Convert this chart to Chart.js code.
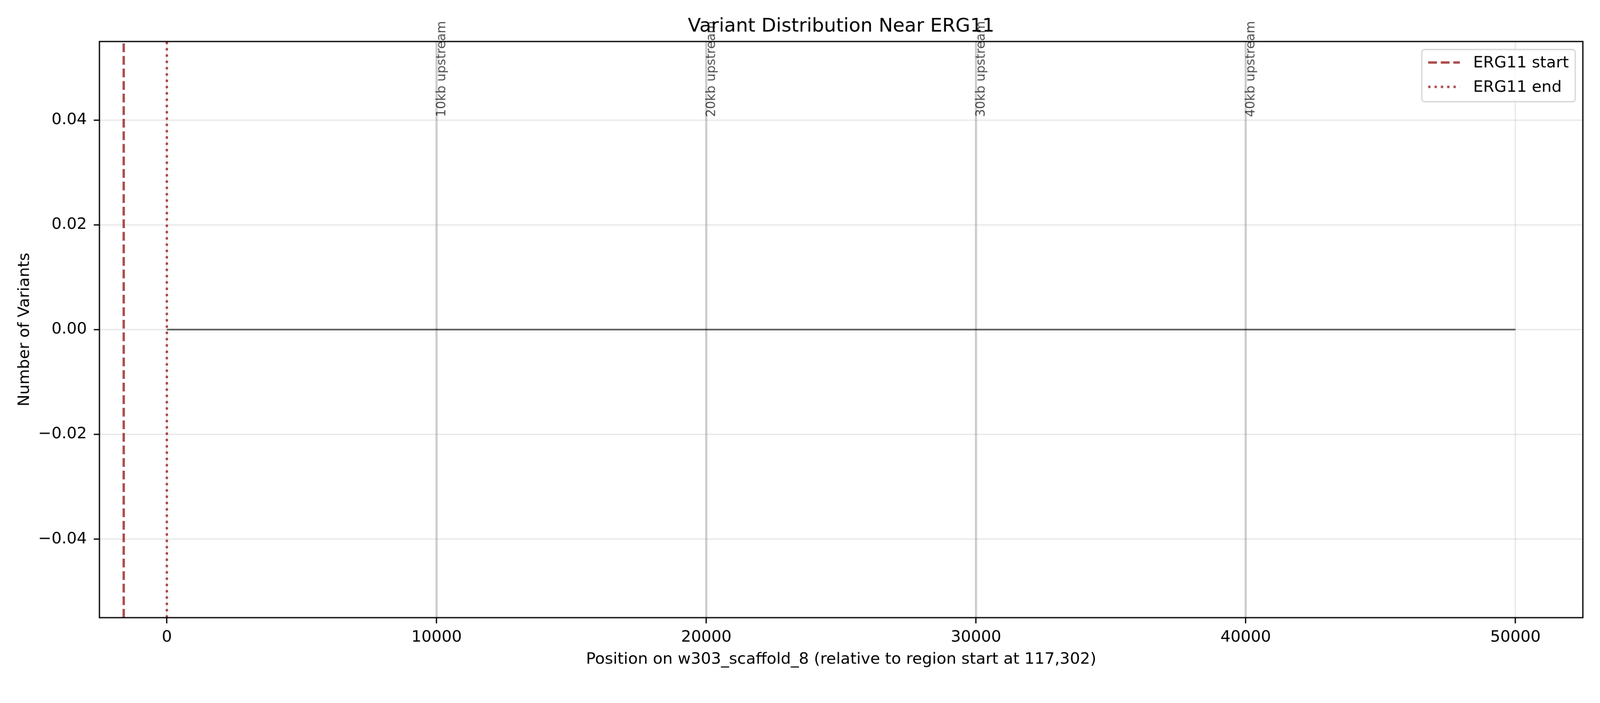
<!DOCTYPE html>
<html>
<head>
<meta charset="utf-8">
<title>Variant Distribution Near ERG11</title>
<script src="https://cdn.jsdelivr.net/npm/chart.js@4.4.1/dist/chart.umd.min.js"></script>
<style>
  html, body { margin: 0; padding: 0; background: #fff; overflow: hidden; }
  #chart { display: block; }
</style>
</head>
<body>
<canvas id="chart" width="4200" height="1800"></canvas>
<script>
// variant counts per position across the window (nothing found)
const binPositions = [0, 10000, 20000, 30000, 40000, 50000]
const variantCounts = [0, 0, 0, 0, 0, 0]

// gene boundaries, relative to region start
const ergStart = -1600
const ergEnd = 0

// upstream distance markers
const markerPositions = [10000, 20000, 30000, 40000]
const markerLabels = ['10kb upstream', '20kb upstream', '30kb upstream', '40kb upstream']
const markerLabelY = 0.04

const xTicks = [0, 10000, 20000, 30000, 40000, 50000]
const yTicks = [-0.04, -0.02, 0, 0.02, 0.04]
const xRange = [-2500, 52500]
const yRange = [-0.055, 0.055]

const legendLabels = ['ERG11 start', 'ERG11 end']

const FONT = '"DejaVu Sans", "Liberation Sans", sans-serif'
const RED = 'rgba(139,0,0,0.7)'
const DASHED = [23, 10]
const DOTTED = [6.25, 10.3]

function vline(xValue, color, width, dash, order) {
    return {
        data: [{x: xValue, y: yRange[0]}, {x: xValue, y: yRange[1]}],
        borderColor: color,
        borderWidth: width,
        borderDash: dash,
        borderCapStyle: 'butt',
        pointRadius: 0,
        order: order
    }
}

const datasets = []

// grey reference lines every 10 kb
markerPositions.forEach((pos) => datasets.push(vline(pos, 'rgba(128,128,128,0.3)', 6.25, [], 5)))

datasets.push({
    data: binPositions.map((p, i) => ({x: p, y: variantCounts[i]})),
    borderColor: 'rgba(0,0,0,0.65)',
    borderWidth: 4.2,
    pointRadius: 0,
    order: 4
})

datasets.push(vline(ergStart, RED, 6.25, DASHED, 2))
datasets.push(vline(ergEnd, RED, 6.25, DOTTED, 1))

const decorations = {
    id: 'decorations',
    afterDatasetsDraw(chart) {
        const {ctx, chartArea: a, scales: {x, y}} = chart
        ctx.save()

        // four spines
        ctx.strokeStyle = '#000'
        ctx.lineWidth = 3.3
        ctx.setLineDash([])
        ctx.strokeRect(a.left, a.top, a.right - a.left, a.bottom - a.top)

        // title
        ctx.fillStyle = '#000'
        ctx.font = '50px ' + FONT
        ctx.textAlign = 'center'
        ctx.textBaseline = 'alphabetic'
        ctx.fillText('Variant Distribution Near ERG11', (a.left + a.right) / 2, 83)

        // axis titles
        ctx.font = '41.7px ' + FONT
        ctx.fillText('Position on w303_scaffold_8 (relative to region start at 117,302)', (a.left + a.right) / 2, 1743)
        ctx.save()
        ctx.translate(76, (a.top + a.bottom) / 2)
        ctx.rotate(-Math.PI / 2)
        ctx.fillText('Number of Variants', 0, 0)
        ctx.restore()

        // rotated marker labels
        ctx.fillStyle = 'rgba(0,0,0,0.7)'
        ctx.font = '33.3px ' + FONT
        ctx.textAlign = 'left'
        markerPositions.forEach((pos, i) => {
            ctx.save()
            ctx.translate(x.getPixelForValue(pos) + 23, y.getPixelForValue(markerLabelY) - 8)
            ctx.rotate(-Math.PI / 2)
            ctx.fillText(markerLabels[i], 0, 0)
            ctx.restore()
        })

        // legend box
        ctx.font = '41.7px ' + FONT
        const textW = Math.max(...legendLabels.map((t) => ctx.measureText(t).width))
        const pad = 17, handle = 83, gap = 35, rowH = 64
        const w = pad + handle + gap + textW + pad
        const h = 137
        const bx = a.right - 20 - w
        const by = a.top + 21
        ctx.beginPath()
        ctx.roundRect(bx, by, w, h, 7)
        ctx.fillStyle = 'rgba(255,255,255,0.8)'
        ctx.fill()
        ctx.strokeStyle = 'rgba(204,204,204,0.8)'
        ctx.lineWidth = 3.3
        ctx.stroke()

        const dashes = [DASHED, DOTTED]
        legendLabels.forEach((label, i) => {
            const ry = by + 34 + i * rowH
            ctx.beginPath()
            ctx.setLineDash(dashes[i])
            ctx.lineCap = 'butt'
            ctx.strokeStyle = RED
            ctx.lineWidth = 6.25
            ctx.moveTo(bx + pad, ry)
            ctx.lineTo(bx + pad + handle, ry)
            ctx.stroke()
            ctx.setLineDash([])
            ctx.fillStyle = '#000'
            ctx.textAlign = 'left'
            ctx.textBaseline = 'middle'
            ctx.fillText(label, bx + pad + handle + gap, ry + 2)
        })

        ctx.restore()
    }
}

const gridStyle = {
    color: 'rgba(176,176,176,0.3)',
    lineWidth: 3.3,
    drawTicks: true,
    tickLength: 15,
    tickColor: '#000',
    tickWidth: 3.3
}

const canvas = document.getElementById('chart')

new Chart(canvas, {
    type: 'line',
    data: {datasets: datasets},
    options: {
        responsive: false,
        animation: false,
        devicePixelRatio: 1,
        layout: {padding: {top: 109, right: 45, left: 0, bottom: 0}},
        plugins: {
            legend: {display: false},
            title: {display: false},
            tooltip: {enabled: false}
        },
        scales: {
            x: {
                type: 'linear',
                min: xRange[0],
                max: xRange[1],
                grid: gridStyle,
                border: {display: false},
                ticks: {
                    color: '#000',
                    padding: 12,
                    maxRotation: 0,
                    font: {family: FONT, size: 41.7},
                    callback: (v) => String(v)
                },
                afterBuildTicks: (scale) => { scale.ticks = xTicks.map((v) => ({value: v})) },
                afterFit: (scale) => { scale.height = 178 }
            },
            y: {
                type: 'linear',
                min: yRange[0],
                max: yRange[1],
                grid: gridStyle,
                border: {display: false},
                ticks: {
                    color: '#000',
                    padding: 18,
                    font: {family: FONT, size: 41.7},
                    callback: (v) => v.toFixed(2).replace('-', '\u2212')
                },
                afterBuildTicks: (scale) => { scale.ticks = yTicks.map((v) => ({value: v})) },
                afterFit: (scale) => { scale.width = 261 }
            }
        }
    },
    plugins: [decorations]
})

// the window may be narrower than 4200 css px: scale the drawing to its width, keeping 4200:1800
canvas.style.width = '100vw'
canvas.style.height = (100 * 1800 / 4200) + 'vw'
</script>
</body>
</html>
